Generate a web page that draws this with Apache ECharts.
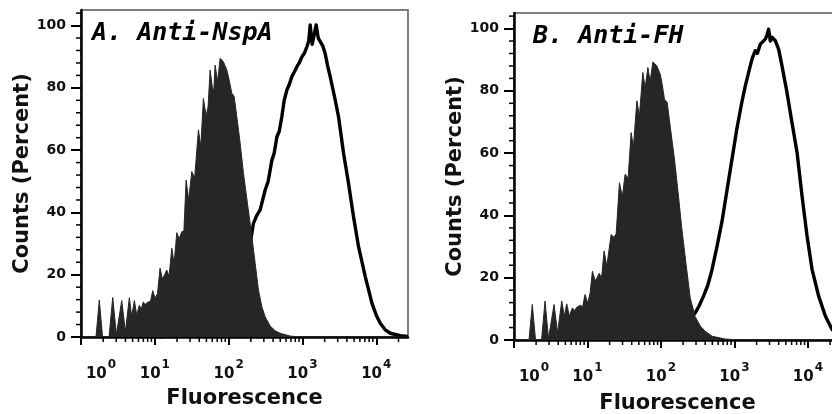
<!DOCTYPE html>
<html><head><meta charset="utf-8">
<script src="https://cdn.jsdelivr.net/npm/echarts@6/dist/echarts.min.js"></script>
<style>html,body{margin:0;padding:0;background:#fff}#c{width:832px;height:414px}</style>
</head><body><div id="c"></div>
<script>
// ---- labels / ticks ----
const panelTitles = ['A. Anti-NspA', 'B. Anti-FH'];
const yAxisName = 'Counts (Percent)';
const xAxisName = 'Fluorescence';
const yTickValues = [0, 20, 40, 60, 80, 100];
const yMinorValues = [4,8,12,16,24,28,32,36,44,48,52,56,64,68,72,76,84,88,92,96,104];
const xDecades = [0, 1, 2, 3, 4];           // exponents: 10^0 .. 10^4
const xMinorMultipliers = [2,3,4,5,6,7,8,9];

// ---- Panel A: filled (control) histogram, x = log10(fluorescence), y = percent ----
const fillA_x = [0,0.203,0.248,0.292,0.380,0.430,0.479,0.506,0.552,0.601,0.655,0.687,0.723,0.755,0.790,0.818,0.845,0.868,0.891,0.913,0.942,0.972,1.003,1.037,1.071,1.105,1.132,1.162,1.193,1.230,1.261,1.298,1.329,1.365,1.394,1.424,1.458,1.501,1.539,1.591,1.623,1.658,1.695,1.722,1.749,1.780,1.799,1.817,1.851,1.885,1.929,1.976,2.007,2.043,2.075,2.111,2.156,2.201,2.255,2.315,2.359,2.404,2.450,2.495,2.563,2.631,2.698,2.834,2.969,4.43];
const fillA_y = [0,0,11.9,0,0,12.7,0.8,1,11.7,1.7,12.6,6.5,11.7,7,10.2,9,11.3,10.3,11,10.5,11.5,14.9,12.4,14,22.1,18.5,20,21.5,19.5,28.5,23.5,33.5,31.5,33.8,34,50.4,44,53.1,51,66.5,61,76.6,71,74,85.7,80,79,87.3,82,89.5,88.4,85.7,82.5,78.3,77.2,70.7,62.2,52.6,42.9,32.2,23.7,15.1,9.7,6.5,3.5,2,1.2,0.3,0,0];
// ---- Panel A: open (Anti-NspA) histogram ----
const openA_x = [1.071,1.478,1.749,1.953,2.088,2.197,2.292,2.336,2.380,2.427,2.495,2.536,2.586,2.617,2.654,2.685,2.721,2.753,2.789,2.820,2.857,2.888,2.925,2.956,2.993,3.024,3.060,3.085,3.105,3.132,3.159,3.186,3.214,3.241,3.275,3.308,3.342,3.376,3.444,3.489,3.557,3.624,3.692,3.760,3.851,3.942,4.000,4.054,4.122,4.190,4.325,4.43];
const openA_y = [0,1,3,8,15,23,30.1,36.5,39,40.8,47.2,50,56.8,59,64.3,66,70.7,76,79.3,81,83.6,85,86.8,88,90,91,93.2,95,100.2,94,97,100.2,96,96.4,93.5,91,87,83.6,76.1,70.7,59,49.4,38.6,29,19.4,10.8,7,4.4,2.3,1.2,0.4,0.2];

// ---- Panel B: filled (control) histogram ----
const fillB_x = [0,0.204,0.249,0.293,0.375,0.422,0.470,0.497,0.545,0.593,0.650,0.685,0.718,0.753,0.794,0.824,0.854,0.879,0.906,0.933,0.967,1.004,1.035,1.067,1.104,1.131,1.158,1.192,1.226,1.263,1.322,1.356,1.390,1.435,1.475,1.512,1.553,1.594,1.625,1.672,1.707,1.753,1.785,1.822,1.853,1.890,1.944,1.989,2.012,2.048,2.084,2.125,2.184,2.238,2.285,2.339,2.398,2.466,2.534,2.602,2.698,2.875,3.079,4.45];
const fillB_y = [0,0,11.4,0,0,12.5,0.5,0.5,11.4,2.3,12.5,7.7,11.6,7.7,10.3,9.5,10.5,10,11.2,10.5,14.6,11.8,15,22.1,19,20,21.4,20,28.6,23.7,33.9,33,34,50.5,46,53.2,52,66.6,62,76.8,72,85.9,81,87.5,83,89.3,88,85.4,82.7,77.3,76.3,68.7,58,46.2,35.5,24.8,13.5,7.5,4.5,2.8,1.2,0.3,0,0];
// ---- Panel B: open (Anti-FH) histogram ----
const openB_x = [1.444,1.853,2.125,2.262,2.398,2.466,2.520,2.579,2.636,2.694,2.762,2.830,2.898,2.966,3.034,3.102,3.147,3.215,3.243,3.283,3.311,3.352,3.420,3.444,3.465,3.488,3.511,3.556,3.601,3.647,3.715,3.783,3.852,3.920,3.988,4.056,4.146,4.237,4.328,4.414,4.45];
const openB_y = [0,0.5,2,4,7,8.7,11,14.1,17.5,22.5,30,38,48,58,68,76.5,81.5,88,90.5,92.9,92,95,96.6,98,99.8,96,97.2,96.1,93.4,88,79.5,69.8,60.2,46.2,33.4,22.7,14.1,7.7,3.4,1.5,1];

const xMaxA = 4.43, xMaxB = 4.45;

function zip(xs, ys) { return xs.map((x, i) => [x, ys[i]]); }
function minorX(max) {
  const out = [];
  xDecades.forEach(d => xMinorMultipliers.forEach(k => {
    const v = d + Math.log10(k);
    if (v < max) out.push([v, 0, 5]);
  }));
  return out;
}

const FONT = 'DejaVu Sans';
const INK = '#111';

function xAxisFor(gi, max) {
  return {
    type: 'value', gridIndex: gi, min: 0, max: max, interval: 1,
    axisLine: { onZero: false, lineStyle: { color: '#000', width: 2.5 } },
    axisTick: { customValues: xDecades, length: 8, lineStyle: { color: '#000', width: 2 } },
    splitLine: { show: false },
    axisLabel: {
      customValues: xDecades, margin: 22, color: INK,
      formatter: v => {
        if (Math.abs(v - Math.round(v)) > 1e-6) return '';
        const e = Math.round(v);
        return (e === 0 ? '{p|}' : '') + '{b|10}{s|' + e + '}';
      },
      rich: {
        p: { width: 40, fontSize: 15 },
        b: { fontFamily: FONT, fontWeight: 'bold', fontSize: 15, color: INK, verticalAlign: 'bottom' },
        s: { fontFamily: FONT, fontWeight: 'bold', fontSize: 12, color: INK, verticalAlign: 'bottom', padding: [0, 0, 11, 1] }
      }
    },
    name: xAxisName, nameLocation: 'middle', nameGap: gi === 0 ? 51 : 53,
    nameTextStyle: { fontFamily: FONT, fontWeight: 'bold', fontSize: 21, color: INK }
  };
}
function yAxisFor(gi) {
  return {
    type: 'value', gridIndex: gi, min: 0, max: 105, interval: 20,
    axisLine: { onZero: false, lineStyle: { color: '#000', width: 2.5 } },
    axisTick: { customValues: yTickValues, length: 10, lineStyle: { color: '#000', width: 2 } },
    splitLine: { show: false },
    axisLabel: {
      customValues: yTickValues, margin: 15, color: INK,
      fontFamily: FONT, fontWeight: 'bold', fontSize: 14
    },
    name: yAxisName, nameLocation: 'middle', nameGap: gi === 0 ? 47 : 48,
    nameTextStyle: { fontFamily: FONT, fontWeight: 'bold', fontSize: 21, color: INK }
  };
}
function tickSeries(gi, data, vertical) {
  return {
    type: 'custom', xAxisIndex: gi, yAxisIndex: gi, clip: false, silent: true, z: 10,
    data: data,
    renderItem: (params, api) => {
      const p = api.coord([api.value(0), api.value(1)]);
      const len = api.value(2);
      const shape = vertical
        ? { x1: p[0], y1: p[1], x2: p[0], y2: p[1] + len }
        : { x1: p[0] - len, y1: p[1], x2: p[0], y2: p[1] };
      return { type: 'line', shape: shape, style: { stroke: '#000', lineWidth: 1.5 } };
    }
  };
}
function openSeries(gi, xs, ys) {
  return {
    type: 'line', xAxisIndex: gi, yAxisIndex: gi, data: zip(xs, ys), symbol: 'none', z: 2,
    lineStyle: { color: '#000', width: 3.4, join: 'round' }
  };
}
function fillSeries(gi, xs, ys) {
  return {
    type: 'line', xAxisIndex: gi, yAxisIndex: gi, data: zip(xs, ys), symbol: 'none', z: 3,
    lineStyle: { color: '#262626', width: 1 },
    areaStyle: { color: '#262626', opacity: 1 }
  };
}
const yMinorData = yMinorValues.map(v => [0, v, 5]);

const titleStyle = { fontFamily: 'DejaVu Sans Mono', fontWeight: 'bold', fontStyle: 'italic', fontSize: 25, color: '#000' };
const option = {
  backgroundColor: '#fff',
  animation: false,
  title: [
    { text: panelTitles[0], left: 92, top: 21, padding: 0, textStyle: titleStyle },
    { text: panelTitles[1], left: 533, top: 24, padding: 0, textStyle: titleStyle }
  ],
  grid: [
    { left: 81, top: 10, width: 327, height: 327, show: true, borderColor: '#555', borderWidth: 1.5, outerBoundsMode: 'none', containLabel: false },
    { left: 514, top: 13, width: 327, height: 327, show: true, borderColor: '#555', borderWidth: 1.5, outerBoundsMode: 'none', containLabel: false }
  ],
  xAxis: [xAxisFor(0, xMaxA), xAxisFor(1, xMaxB)],
  yAxis: [yAxisFor(0), yAxisFor(1)],
  series: [
    openSeries(0, openA_x, openA_y),
    fillSeries(0, fillA_x, fillA_y),
    openSeries(1, openB_x, openB_y),
    fillSeries(1, fillB_x, fillB_y),
    tickSeries(0, minorX(xMaxA), true),
    tickSeries(1, minorX(xMaxB), true),
    tickSeries(0, yMinorData, false),
    tickSeries(1, yMinorData, false)
  ]
};
echarts.init(document.getElementById('c'), null, { renderer: 'canvas' }).setOption(option);
</script></body></html>
